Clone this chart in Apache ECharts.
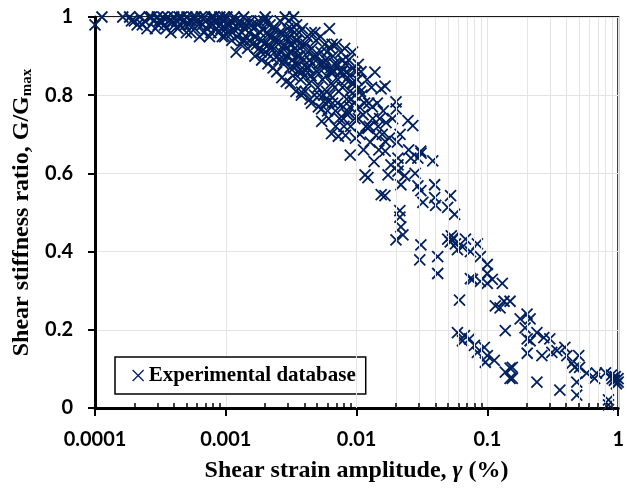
<!DOCTYPE html>
<html>
<head>
<meta charset="utf-8">
<script src="https://cdn.jsdelivr.net/npm/echarts@6/dist/echarts.min.js"></script>
<style>html,body{margin:0;padding:0;background:#fff;}#chart{width:627px;height:488px;}</style>
</head>
<body>
<div id="chart"></div>
<script>
// ---- data: [shear strain amplitude (%), G/Gmax] ----
const lowStrainPoints = [
[0.0001,0.98],[0.000113,1.0],[0.000163,1.0],[0.000184,1.0],[0.0002,0.99],[0.00021,0.98],[0.00022,1.0],[0.00024,0.99],[0.00025,0.97],[0.00026,1.0],
[0.00028,0.99],[0.0003,1.0],[0.000305,0.98],[0.00032,0.99],[0.00033,1.0],[0.00035,0.97],[0.00036,1.0],[0.00037,0.99],[0.00038,0.96],[0.0004,1.0],
[0.000405,0.98],[0.00042,0.99],[0.00044,1.0],[0.00045,0.98],[0.00047,0.99],[0.0005,0.96],[0.000505,1.0],[0.00052,0.98],[0.00055,0.99],[0.00056,1.0],
[0.00058,0.97],[0.0006,0.99],[0.00063,0.95],[0.00065,1.0],[0.00066,0.98],[0.0007,0.99],[0.00072,0.97],[0.00075,0.95],[0.00078,1.0],[0.0008,0.98],
[0.00082,0.99],[0.00085,0.97],[0.0009,1.0],[0.00091,0.98],[0.00094,0.95],[0.00095,0.99],[0.001,0.97],
[0.00019,0.99],[0.00023,0.98],[0.00027,1.0],[0.00029,0.97],[0.00031,0.99],[0.00034,0.98],[0.00039,0.99],[0.00043,0.97],[0.00046,1.0],[0.00049,0.98],
[0.00053,0.99],[0.00054,0.96],[0.00059,1.0],[0.00062,0.98],[0.00068,0.96],[0.00069,1.0],[0.00074,0.98],[0.00077,0.96],[0.00081,1.0],[0.00087,0.99],
[0.00088,0.96],[0.00092,0.97],[0.00097,1.0],[0.00098,0.95]
];
const transitionPoints = [
[0.00102,1.0],[0.00104,0.96],[0.00107,0.98],[0.0011,0.99],[0.00111,0.94],[0.00114,0.97],[0.00118,0.99],[0.0012,0.91],[0.00122,0.95],[0.00126,0.98],
[0.0013,0.93],[0.00133,0.96],[0.00137,1.0],[0.0014,0.94],[0.00143,0.98],[0.00147,0.92],[0.0015,0.96],[0.00155,0.99],[0.0016,0.93],[0.00163,0.97],
[0.00167,0.9],[0.0017,0.95],[0.00175,0.98],[0.0018,0.92],[0.00184,0.96],[0.00188,0.89],[0.0019,0.94],[0.00195,0.99],[0.002,1.0],[0.00201,0.91],
[0.00205,0.96],[0.0021,0.88],[0.00213,0.93],[0.00218,0.98],[0.0022,0.9],[0.00225,0.95],[0.0023,0.87],[0.00234,0.92],[0.0024,0.97],[0.00245,0.86],
[0.0025,0.94],[0.00255,0.89],[0.0026,0.99],[0.00263,0.91],[0.00268,0.845],[0.0027,0.96],[0.00275,0.88],[0.0028,0.93],[0.00285,1.0],[0.0029,0.835],
[0.00293,0.9],[0.00297,0.97],
[0.00103,0.98],[0.00112,0.96],[0.00116,1.0],[0.00124,0.97],[0.00128,0.99],[0.00135,0.94],[0.00139,0.97],[0.00145,0.99],[0.00152,0.94],[0.00158,0.98],
[0.00165,0.95],[0.00172,0.93],[0.00178,0.99],[0.00186,0.91],[0.00192,0.97],[0.00198,0.93],[0.00208,0.99],[0.00215,0.95],[0.00222,0.92],[0.00228,0.97],
[0.00238,0.94],[0.00248,0.9],[0.00258,0.96],[0.00272,0.92],[0.00282,0.89],[0.00288,0.95]
];
const midStrainPoints = [
[0.00301,0.99],[0.00304,0.95],[0.00307,0.91],[0.0031,0.87],[0.00312,0.83],[0.00316,0.97],[0.0032,0.93],[0.00323,0.89],[0.00326,0.85],
[0.0033,1.0],[0.00334,0.96],[0.00338,0.92],[0.0034,0.88],[0.00344,0.81],[0.00348,0.98],[0.00352,0.94],[0.00356,0.9],[0.0036,0.86],
[0.00365,0.96],[0.0037,0.92],[0.00374,0.84],[0.00378,0.8],[0.0038,0.808],[0.00385,0.97],[0.0039,0.93],[0.00395,0.89],[0.004,0.85],[0.00405,0.81],
[0.0042,0.95],[0.00425,0.91],[0.0043,0.87],[0.00435,0.83],[0.0044,0.79],[0.0045,0.96],[0.00451,0.78],[0.00455,0.92],[0.0046,0.88],[0.00465,0.84],
[0.0048,0.96],[0.0049,0.94],[0.00495,0.9],[0.005,0.86],[0.00505,0.82],[0.0051,0.77],[0.0053,0.95],[0.00535,0.91],[0.0054,0.765],[0.00541,0.733],
[0.00545,0.88],[0.0055,0.84],[0.00557,0.884],[0.0056,0.8],[0.0057,0.93],[0.0058,0.89],[0.00585,0.85],[0.0059,0.81],[0.006,0.76],
[0.0061,0.783],[0.00612,0.74],[0.0062,0.97],[0.0063,0.92],[0.00635,0.87],[0.0064,0.83],[0.00641,0.859],[0.00643,0.702],
[0.0066,0.9],[0.0067,0.86],[0.0068,0.82],[0.0069,0.76],[0.00692,0.72],[0.007,0.93],[0.0071,0.88],[0.0072,0.84],[0.0073,0.81],[0.00725,0.695],[0.0074,0.74],
[0.0076,0.91],[0.0077,0.86],[0.0078,0.82],[0.0079,0.77],[0.008,0.72],[0.0081,0.92],[0.0082,0.88],[0.00822,0.697],[0.0083,0.84],[0.0084,0.79],[0.0085,0.75],
[0.0086,0.758],[0.0087,0.89],[0.0088,0.85],[0.0089,0.81],[0.009,0.72],[0.0091,0.79],[0.00894,0.647],[0.0093,0.91],[0.0094,0.87],[0.0095,0.83],
[0.0096,0.78],[0.0097,0.74],[0.0098,0.69],[0.0099,0.86],[0.0103,0.879],[0.01032,0.74],[0.0104,0.82],[0.0105,0.77],[0.0106,0.7],
[0.0108,0.86],[0.011,0.8],[0.0112,0.75],[0.0113,0.66],[0.0116,0.596],[0.0118,0.72],[0.012,0.84],[0.0122,0.589],[0.01222,0.715],[0.0124,0.78],
[0.0127,0.68],[0.013,0.82],[0.0133,0.74],[0.0136,0.63],[0.0138,0.859],[0.0141,0.697],[0.0144,0.78],[0.0148,0.66],[0.015,0.74],[0.0154,0.816],
[0.01542,0.546],[0.0157,0.7],[0.016,0.76],[0.0165,0.823],[0.01652,0.682],[0.01655,0.657],[0.01648,0.543],[0.0168,0.73],[0.0174,0.596],[0.0178,0.69],
[0.0183,0.622],[0.0188,0.74],[0.02,0.783],[0.0201,0.765],[0.0205,0.68],[0.0207,0.639],[0.02072,0.622],[0.02075,0.606],[0.0215,0.7],[0.0218,0.571],
[0.0233,0.594],[0.0247,0.735],[0.025,0.66],[0.026,0.639],[0.0269,0.722],[0.028,0.6],[0.0294,0.639],[0.02942,0.568],[0.0309,0.657],[0.0311,0.652],
[0.031,0.556],[0.0321,0.526],[0.0382,0.632],[0.0395,0.571],[0.03952,0.538],[0.0402,0.518],
[0.00309,0.93],[0.00318,0.91],[0.00331,0.87],[0.00342,0.94],[0.00358,0.88],[0.00368,0.9],[0.00382,0.86],[0.0041,0.93],[0.00415,0.87],[0.00438,0.89],
[0.00448,0.85],[0.00472,0.9],[0.00476,0.8],[0.00515,0.88],[0.0052,0.8],[0.00565,0.87],[0.00575,0.78],[0.00595,0.91],[0.00625,0.8],[0.0065,0.93],
[0.00655,0.78],[0.00675,0.88],[0.00715,0.78],[0.0075,0.86],[0.00785,0.89],[0.0079,0.74],[0.0084,0.86],[0.0089,0.77],[0.0092,0.83],[0.0097,0.8],
[0.0101,0.84],[0.0107,0.81],[0.0115,0.78],[0.0125,0.72],[0.0132,0.77],[0.0146,0.72]
];
const highStrainPoints = [
[0.0214,0.505],[0.02142,0.488],[0.0218,0.463],[0.0226,0.443],[0.02,0.43],[0.0497,0.513],[0.0523,0.543],[0.0561,0.495],[0.0541,0.43],[0.0497,0.432],
[0.052,0.425],[0.055,0.435],[0.053,0.44],[0.057,0.42],[0.068,0.432],[0.0838,0.42],[0.0645,0.412],[0.0741,0.4],[0.0883,0.387],[0.031,0.417],
[0.0304,0.379],[0.0417,0.387],[0.0417,0.344],[0.0998,0.367],[0.0741,0.331],[0.0883,0.324],[0.0998,0.344],[0.109,0.329],[0.13,0.319],[0.059,0.405],
[0.0768,0.329],[0.0998,0.319],[0.0612,0.276],[0.115,0.261],[0.134,0.273],[0.149,0.273],[0.125,0.256],[0.137,0.198],[0.059,0.193],[0.0668,0.185],
[0.0645,0.172],[0.0729,0.177],[0.0796,0.16],[0.0838,0.142],[0.0947,0.155],[0.0998,0.134],[0.0964,0.117],[0.113,0.122],[0.137,0.092],[0.149,0.076],
[0.155,0.104],[0.178,0.228],[0.201,0.24],[0.212,0.228],[0.194,0.205],[0.2012,0.177],[0.239,0.193],[0.27,0.18],[0.3,0.177],[0.2122,0.172],
[0.2015,0.14],[0.261,0.134],[0.311,0.142],[0.34,0.147],[0.391,0.155],[0.405,0.134],[0.442,0.114],[0.465,0.104],[0.499,0.134],[0.507,0.104],
[0.574,0.089],[0.683,0.089],[0.66,0.076],[0.888,0.084],[0.935,0.071],[1.0,0.066],[0.239,0.066],[0.1492,0.102],[0.155,0.076],[0.358,0.046],
[0.482,0.066],[0.4822,0.033],[0.843,0.021],[0.8432,0.008],[0.95,0.08],[0.9,0.075],[0.998,0.075],[0.97,0.062],[0.8,0.09]
];
const seriesName = 'Experimental database';
const xTickLabels = ['0.0001', '0.001', '0.01', '0.1', '1'];
const decades = [0.0001, 0.001, 0.01, 0.1];
const minorMultipliers = [2, 3, 4, 5, 6, 7, 8, 9];

const allPoints = lowStrainPoints.concat(transitionPoints, midStrainPoints, highStrainPoints);
const minorStrains = [];
decades.forEach(d => minorMultipliers.forEach(m => minorStrains.push(d * m)));

const navy = '#002060';
const crossPath = 'path://M0,0L10,10M0,10L10,0';

const chart = echarts.init(document.getElementById('chart'), null, {renderer: 'canvas'});
chart.setOption({
  animation: false,
  backgroundColor: '#fff',
  grid: {left: 95, right: 4, top: 17, bottom: 74, show: true, borderColor: '#1a1a1a', borderWidth: 2, backgroundColor: 'transparent'},
  legend: {
    data: [seriesName],
    left: 115, top: 357,
    padding: [8, 10, 8, 17],
    backgroundColor: '#fff',
    borderColor: '#000', borderWidth: 1.5, borderRadius: 0,
    itemWidth: 11, itemHeight: 11,
    icon: crossPath,
    itemStyle: {color: 'transparent', borderColor: navy, borderWidth: 1.3},
    textStyle: {fontFamily: 'Liberation Serif', fontWeight: 'bold', fontSize: 21, color: '#000'}
  },
  xAxis: {
    type: 'log', logBase: 10, min: 0.0001, max: 1, splitNumber: 4,
    name: '{n|Shear strain amplitude, }{g|γ}{n| (%)}',
    nameLocation: 'middle', nameGap: 51,
    nameTextStyle: {
      rich: {
        n: {fontFamily: 'Liberation Serif', fontWeight: 'bold', fontSize: 24, color: '#000'},
        g: {fontFamily: 'Liberation Serif', fontWeight: 'bold', fontStyle: 'italic', fontSize: 24, color: '#000'}
      }
    },
    axisLine: {show: true, onZero: false, lineStyle: {color: '#000', width: 3}},
    axisTick: {show: true, inside: false, length: 8, lineStyle: {color: '#000', width: 2}},
    axisLabel: {
      margin: 22, color: '#000', fontFamily: 'Lato', fontWeight: 'bold', fontSize: 20,
      formatter: function (v) { const i = Math.round(Math.log10(v)) + 4; return xTickLabels[i] !== undefined ? xTickLabels[i] : ''; }
    },
    splitLine: {show: true, lineStyle: {color: '#e4e4e4', width: 1}}
  },
  yAxis: {
    type: 'value', min: 0, max: 1, interval: 0.2,
    name: '{t|Shear stiffness ratio, G/G}{s|max}',
    nameLocation: 'middle', nameGap: 57,
    nameTextStyle: {
      rich: {
        t: {fontFamily: 'Liberation Serif', fontWeight: 'bold', fontSize: 24, color: '#000', lineHeight: 24},
        s: {fontFamily: 'Liberation Serif', fontWeight: 'bold', fontSize: 15, color: '#000', lineHeight: 10, verticalAlign: 'bottom'}
      }
    },
    axisLine: {show: true, lineStyle: {color: '#000', width: 3}},
    axisTick: {show: true, inside: false, length: 7, lineStyle: {color: '#000', width: 2}},
    axisLabel: {margin: 22, color: '#000', fontFamily: 'Lato', fontWeight: 'bold', fontSize: 20,
      formatter: function (v) { return String(Math.round(v * 10) / 10); }},
    splitLine: {show: true, lineStyle: {color: '#e4e4e4', width: 1}}
  },
  series: [
    {
      type: 'line', name: 'minorGrid', data: [], silent: true, z: 1,
      markLine: {silent: true, symbol: 'none', label: {show: false}, animation: false,
        lineStyle: {color: '#e4e4e4', width: 1, type: 'solid'},
        emphasis: {disabled: true},
        data: minorStrains.map(v => ({xAxis: v}))}
    },
    {
      type: 'scatter', name: seriesName, data: allPoints, z: 3,
      symbol: crossPath, symbolSize: 11,
      itemStyle: {color: 'transparent', borderColor: navy, borderWidth: 1.8, opacity: 1},
      emphasis: {disabled: true}
    },
    {
      type: 'line', name: 'minorTicks', data: [], silent: true, z: 4,
      markLine: {silent: true, symbol: 'none', label: {show: false}, animation: false,
        lineStyle: {color: '#000', width: 1.5, type: 'solid'},
        emphasis: {disabled: true},
        data: minorStrains.map(v => [{coord: [v, 0]}, {coord: [v, 0.013]}])}
    }
  ]
});
</script>
</body>
</html>
